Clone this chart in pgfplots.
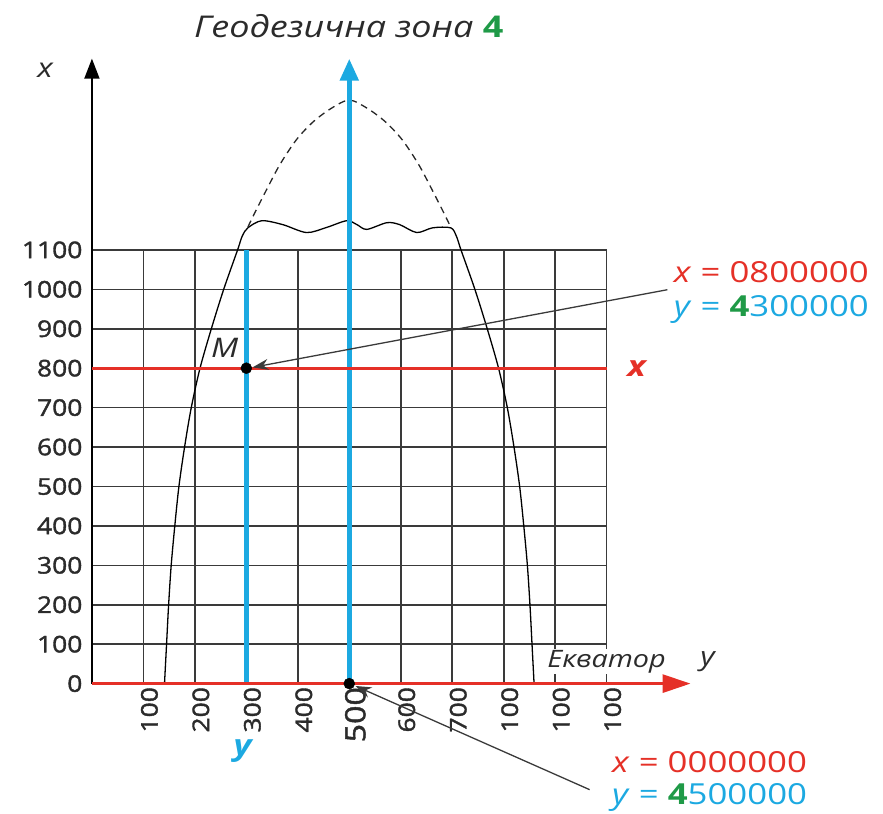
\documentclass[border=0pt]{standalone}
\usepackage{fontspec}
\setmainfont[FakeStretch=1.2]{Open Sans}
\newfontfamily\tickfont[FakeStretch=1.15, FakeBold=1.6]{Open Sans}
\usepackage{pgfplots}
\pgfplotsset{compat=1.18}
\usetikzlibrary{arrows.meta}

\definecolor{zred}{HTML}{E53027}
\definecolor{zblue}{HTML}{1CA9E1}
\definecolor{zgreen}{HTML}{1F9A47}
\definecolor{zgrid}{HTML}{3A3A3A}
\definecolor{ztext}{HTML}{2B2B2B}

\begin{document}
\begin{tikzpicture}
\begin{axis}[
  x=0.515pt, y=0.3945pt,
  xmin=0, xmax=1000, ymin=0, ymax=1100,
  clip=false,
  axis line style={draw=zgrid, line width=1.6pt},
  grid=major, grid style={draw=zgrid, line width=1.6pt},
  major tick length=0pt,
  xtick={100,200,...,1000}, ytick={0,100,...,1100},
  xticklabels={100,200,300,400,{\fontsize{28}{30}\selectfont 500},600,700,100,100,100},
  /pgf/number format/assume math mode=true,
  /pgf/number format/1000 sep={},
  yticklabel style={font=\tickfont\fontsize{23}{25}\selectfont, text=ztext, anchor=east, xshift=-6pt},
  xticklabel style={font=\tickfont\fontsize{23}{25}\selectfont, text=ztext, rotate=90, anchor=east, yshift=-6pt},
]
% outer meridians of the zone
\addplot[black, line width=1.3pt, smooth, tension=0.5] coordinates {
  (141,0) (145,100) (149,200) (154,300) (161,400) (169,500) (180,600) (193,700)
  (210,800) (232,900) (256,1000) (283,1100) (292,1135) (303,1156)
  (330,1174) (371,1164) (417,1144) (456,1157) (495,1174) (515,1164) (534,1152)
  (573,1169) (598,1164) (631,1144) (662,1156) (697,1156)
  (708,1135) (717,1100) (744,1000) (768,900) (790,800) (807,700) (820,600)
  (831,500) (839,400) (846,300) (851,200) (855,100) (859,0)};
\addplot[black!85, line width=1.3pt, dash pattern=on 7pt off 5pt, smooth] coordinates {
  (303,1158) (316,1193) (339,1252) (365,1316) (397,1379) (430,1425) (465,1459) (500,1480)
  (535,1459) (570,1425) (603,1379) (635,1316) (661,1252) (684,1193) (697,1158)};
% axes
\addplot[black, line width=1.8pt, -{Triangle[length=20pt,width=15pt]}] coordinates {(0,0) (0,1585)};
\addplot[zblue, line width=5pt, -{Triangle[length=22pt,width=18pt]}] coordinates {(500,0) (500,1585)};
\addplot[zblue, line width=5pt] coordinates {(300,0) (300,1100)};
\addplot[zred, line width=3pt] coordinates {(0,800) (1000,800)};
\addplot[zred, line width=3pt, -{Triangle[length=28pt,width=18pt]}] coordinates {(0,0) (1163,0)};
% points
\addplot[black, only marks, mark=*, mark size=5.5pt] coordinates {(300,800) (500,0)};
% pointers
\draw[zgrid, line width=1.3pt, -{Stealth[length=16pt,width=11pt]}] (axis cs:1118,999) -- (axis cs:312,802);
\draw[zgrid, line width=1.3pt, -{Stealth[length=16pt,width=11pt]}] (axis cs:967,-269) -- (axis cs:512,-6);
% labels
\node[text=ztext, font=\fontsize{30}{32}\selectfont] at (axis cs:499,1668) {\textit{Геодезична зона} \textcolor{zgreen}{\textbf{4}}};
\node[text=ztext, font=\fontsize{27}{29}\selectfont\itshape] at (axis cs:-91,1556) {x};
\node[text=ztext, font=\fontsize{27}{29}\selectfont\itshape] at (axis cs:258,852) {M};
\node[text=zred, font=\fontsize{29}{31}\selectfont\bfseries\itshape] at (axis cs:1058,800) {x};
\node[text=ztext, fill=white, inner sep=1pt, font=\fontsize{24}{26}\selectfont\itshape] at (axis cs:1000,56) {Екватор};
\node[text=ztext, font=\fontsize{26}{28}\selectfont\itshape] at (axis cs:1196,56) {y};
\node[text=zblue, font=\fontsize{29}{31}\selectfont\bfseries\itshape] at (axis cs:293,-172) {y};
\node[text=zred, font=\fontsize{29}{31}\selectfont] at (axis cs:1320,1044) {\textit{x} = 0800000};
\node[text=zblue, font=\fontsize{29}{31}\selectfont] at (axis cs:1320,948) {\textit{y} = \textcolor{zgreen}{\textbf{4}}300000};
\node[text=zred, font=\fontsize{29}{31}\selectfont] at (axis cs:1200,-198) {\textit{x} = 0000000};
\node[text=zblue, font=\fontsize{29}{31}\selectfont] at (axis cs:1200,-289) {\textit{y} = \textcolor{zgreen}{\textbf{4}}500000};
\coordinate (bbBL) at (axis cs:-178.6,-329.5);
\coordinate (bbTR) at (axis cs:1536.9,1733.8);
\end{axis}
\pgfresetboundingbox
\useasboundingbox (bbBL) rectangle (bbTR);
\end{tikzpicture}
\end{document}
